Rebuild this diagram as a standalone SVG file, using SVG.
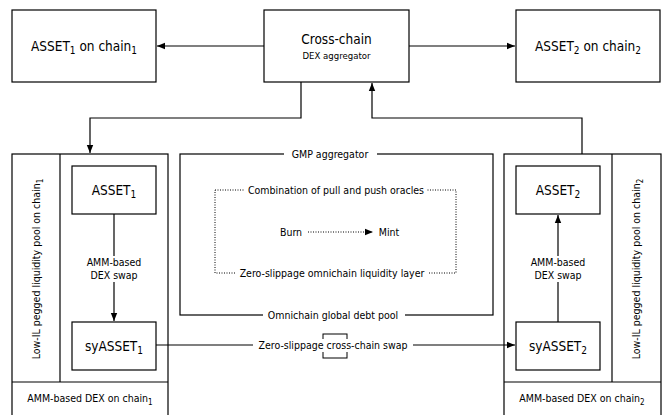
<svg xmlns="http://www.w3.org/2000/svg" width="665" height="415" viewBox="0 0 665 415">
<style>
.box{fill:#fff;stroke:#000;stroke-width:1.2}
.frame{fill:none;stroke:#000;stroke-width:1.2}
.ln{fill:none;stroke:#000;stroke-width:1.2}
.dot{fill:none;stroke:#000;stroke-width:1;stroke-dasharray:1,1.5}
text{font-family:"DejaVu Sans Condensed","DejaVu Sans",sans-serif;font-stretch:condensed;fill:#000;text-anchor:middle}
.big{font-size:13.5px}
.sm{font-size:10.5px}
.bg{fill:#fff;stroke:none}
</style>
<defs>
<marker id="ah" viewBox="0 0 10 10" refX="10" refY="5" markerWidth="8" markerHeight="8" markerUnits="userSpaceOnUse" orient="auto">
<path d="M0,1 L10,5 L0,9 Z" fill="#000"/>
</marker>
</defs>

<g id="amm-dex-chain1">
<rect class="frame" x="12" y="154" width="156" height="270"/>
<line class="ln" x1="12" y1="382" x2="168" y2="382"/>
<line class="ln" x1="60" y1="154" x2="60" y2="382"/>
<text class="sm" transform="translate(40,269) rotate(-90)">Low-IL pegged liquidity pool on chain<tspan font-size="8" dy="3">1</tspan></text>
<text class="sm" x="90" y="402">AMM-based DEX on chain<tspan font-size="8" dy="3">1</tspan></text>
</g>

<g id="amm-dex-chain2">
<rect class="frame" x="504" y="154" width="157" height="270"/>
<line class="ln" x1="504" y1="382" x2="661" y2="382"/>
<line class="ln" x1="612" y1="154" x2="612" y2="382"/>
<text class="sm" transform="translate(640,269) rotate(-90)">Low-IL pegged liquidity pool on chain<tspan font-size="8" dy="3">2</tspan></text>
<text class="sm" x="582" y="402">AMM-based DEX on chain<tspan font-size="8" dy="3">2</tspan></text>
</g>

<g id="gmp-aggregator">
<rect class="frame" x="180" y="154" width="313" height="161"/>
<rect class="bg" x="284" y="148" width="93" height="12"/>
<text class="sm" x="330" y="158">GMP aggregator</text>
<rect class="bg" x="263" y="309" width="142" height="12"/>
<text class="sm" x="333" y="319">Omnichain global debt pool</text>
</g>

<g id="omnichain-liquidity-layer">
<rect class="dot" x="215" y="190" width="241" height="83"/>
<rect class="bg" x="245" y="184" width="182" height="12"/>
<text class="sm" x="336" y="194">Combination of pull and push oracles</text>
<rect class="bg" x="235" y="267" width="194" height="12"/>
<text class="sm" x="332" y="277">Zero-slippage omnichain liquidity layer</text>
</g>

<g id="connectors">
<line class="ln" x1="264" y1="46" x2="157" y2="46" marker-end="url(#ah)"/>
<line class="ln" x1="409" y1="46" x2="515" y2="46" marker-end="url(#ah)"/>
<polyline class="ln" points="301,82 301,118 90,118 90,153" marker-end="url(#ah)"/>
<polyline class="ln" points="582,154 582,118 372,118 372,83" marker-end="url(#ah)"/>
<line class="ln" x1="114" y1="214" x2="114" y2="321" marker-end="url(#ah)"/>
<line class="ln" x1="558" y1="322" x2="558" y2="215" marker-end="url(#ah)"/>
<line class="ln" x1="156" y1="345" x2="515" y2="345" marker-end="url(#ah)"/>
<line class="dot" x1="308" y1="232" x2="373" y2="232" marker-end="url(#ah)"/>
</g>

<g id="asset1-on-chain1">
<rect class="box" x="12" y="10" width="144" height="72"/>
<text class="big" x="84" y="51">ASSET<tspan font-size="10" dy="3">1</tspan><tspan dy="-3"> on chain</tspan><tspan font-size="10" dy="3">1</tspan></text>
</g>

<g id="cross-chain-dex-aggregator">
<rect class="box" x="264" y="10" width="145" height="72"/>
<text class="big" x="336.5" y="44">Cross-chain</text>
<text style="font-size:9.5px" x="336.5" y="59">DEX aggregator</text>
</g>

<g id="asset2-on-chain2">
<rect class="box" x="516" y="10" width="144" height="72"/>
<text class="big" x="588" y="51">ASSET<tspan font-size="10" dy="3">2</tspan><tspan dy="-3"> on chain</tspan><tspan font-size="10" dy="3">2</tspan></text>
</g>

<g id="asset1">
<rect class="box" x="72" y="166" width="84" height="48"/>
<text class="big" x="114" y="195">ASSET<tspan font-size="10" dy="3">1</tspan></text>
</g>

<g id="label-amm-swap-1">
<rect class="bg" x="88" y="256" width="52" height="26"/>
<text class="sm" x="114" y="266">AMM-based</text>
<text class="sm" x="114" y="279">DEX swap</text>
</g>

<g id="syasset1">
<rect class="box" x="72" y="322" width="84" height="48"/>
<text class="big" x="114" y="351">syASSET<tspan font-size="10" dy="3">1</tspan></text>
</g>

<g id="asset2">
<rect class="box" x="516" y="166" width="84" height="48"/>
<text class="big" x="558" y="195">ASSET<tspan font-size="10" dy="3">2</tspan></text>
</g>

<g id="label-amm-swap-2">
<rect class="bg" x="532" y="256" width="52" height="26"/>
<text class="sm" x="558" y="266">AMM-based</text>
<text class="sm" x="558" y="279">DEX swap</text>
</g>

<g id="syasset2">
<rect class="box" x="516" y="322" width="84" height="48"/>
<text class="big" x="558" y="351">syASSET<tspan font-size="10" dy="3">2</tspan></text>
</g>

<g id="burn">
<text class="sm" x="291" y="236">Burn</text>
</g>
<g id="mint">
<text class="sm" x="389" y="236">Mint</text>
</g>

<g id="zero-slippage-swap-label">
<rect class="box" x="323" y="334" width="24" height="24" style="stroke-width:1"/>
<rect class="bg" x="253" y="339" width="160" height="13"/>
<text class="sm" x="333" y="349">Zero-slippage cross-chain swap</text>
</g>
</svg>
